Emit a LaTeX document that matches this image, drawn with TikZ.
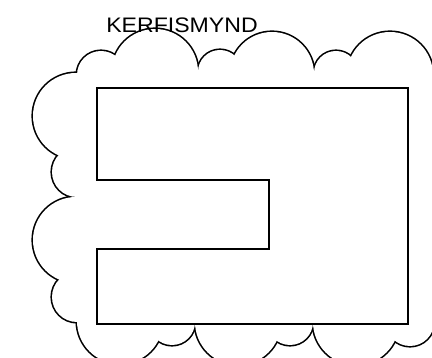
\documentclass[tikz,border=0pt]{standalone}
\usepackage{fontspec}
\setmainfont{Liberation Sans}
\usepackage{graphicx}
\usetikzlibrary{positioning}

\begin{document}
\begin{tikzpicture}[x=1pt, y=-1pt]
	\useasboundingbox (0,0) rectangle (432,358);
	\clip (0,0) rectangle (432,358);
	% cloud: thick rings first, white discs on top leave the outer rim
	\foreach \cx/\cy/\cr in {101/75/24, 155/72/43, 220/72/22, 272/74/42, 336/73/22, 390/75/43,
		400/136/69, 400/258/69, 410/322/24, 356/322/43, 290/322/23, 238/322/43, 172/322/23,
		120/321/43, 77/297/25, 76/240/43, 77/172/25, 76/116/43}
		\draw[black, line width=3.2pt] (\cx,\cy) circle (\cr pt);
	\foreach \cx/\cy/\cr in {101/75/24, 155/72/43, 220/72/22, 272/74/42, 336/73/22, 390/75/43,
		400/136/69, 400/258/69, 410/322/24, 356/322/43, 290/322/23, 238/322/43, 172/322/23,
		120/321/43, 77/297/25, 76/240/43, 77/172/25, 76/116/43}
		\fill[white] (\cx,\cy) circle (\cr pt);
	\fill[white] (101,75) -- (155,72) -- (220,72) -- (272,74) -- (336,73) -- (390,75) -- (400,136)
		-- (400,258) -- (410,322) -- (356,322) -- (290,322) -- (238,322) -- (172,322) -- (120,321)
		-- (77,297) -- (76,240) -- (77,172) -- (76,116) -- cycle;
	% house outline
	\draw[black, line width=1.5pt] (97,88) -- (408,88) -- (408,324) -- (97,324) -- (97,249)
		-- (269,249) -- (269,180) -- (97,180) -- cycle;
	\node[font=\fontsize{21}{21}\selectfont, inner sep=0pt] (title) at (182,25) {\scalebox{1.1}[1]{KERFISMYND}};
\end{tikzpicture}
\end{document}
